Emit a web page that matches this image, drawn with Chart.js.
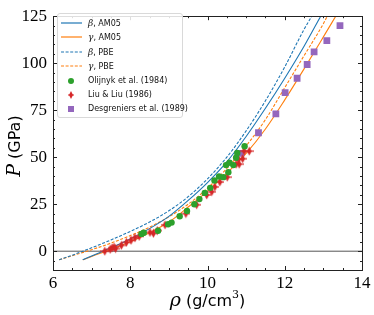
<!DOCTYPE html>
<html lang="en">
<head>
<meta charset="UTF-8">
<title>Sn equation of state</title>
<script src="https://cdn.jsdelivr.net/npm/chart.js"></script>
<style>
  body { margin: 0; background: #fff; }
  #wrap { position: relative; width: 374px; height: 315px; }
  #legend {
    position: absolute; left: 57px; top: 13px; width: 126px; height: 105px;
    border: 1px solid #d9d9d9; border-radius: 3px; background: rgba(255,255,255,0.85);
    font: 8px "DejaVu Sans", sans-serif; color: #111; box-sizing: border-box;
  }
  .row { position: absolute; left: 0; height: 12px; width: 100%; }
  .row svg { position: absolute; left: 2px; top: 0; }
  .row span { position: absolute; left: 30px; top: 1px; white-space: nowrap; }
  .row i { font-family: "DejaVu Serif", serif; font-size: 9px; }
</style>
</head>
<body>
<div id="wrap">
  <canvas id="myChart"></canvas>
  <div id="legend"></div>
</div>

<script>
// tick labels
const xTicks = [6, 8, 10, 12, 14];
const yTicks = [0, 25, 50, 75, 100, 125];

// calculated curves (rho in g/cm3, P in GPa)
const betaAM05Rho = [6.77, 7.0, 7.5, 8.0, 8.5, 9.0, 9.5, 10.0, 10.5, 11.0, 11.5, 12.0, 12.5, 12.93];
const betaAM05P   = [-4.6, -2.5, 1.8, 6.5, 12.0, 18.5, 27.0, 36.5, 47.5, 61, 76, 92, 109, 125];

const gammaAM05Rho = [6.77, 7.0, 7.5, 8.0, 8.5, 9.0, 9.5, 10.0, 10.5, 11.0, 11.5, 12.0, 12.5, 13.0, 13.32];
const gammaAM05P   = [-4.6, -2.8, 0.9, 5.0, 9.8, 15.5, 23.5, 32, 41.5, 52, 65, 80.5, 97, 114, 125];

const betaPBERho = [6.16, 6.5, 7.0, 7.5, 8.0, 8.5, 9.0, 9.5, 10.0, 10.5, 11.0, 11.5, 12.0, 12.5, 12.70];
const betaPBEP   = [-4.6, -2.1, 1.8, 6.0, 10.5, 15.5, 21.5, 29.0, 38.5, 50, 64, 80, 98, 118, 125];

const gammaPBERho = [6.16, 6.5, 7.0, 7.5, 8.0, 8.5, 9.0, 9.5, 10.0, 10.5, 11.0, 11.5, 12.0, 12.5, 13.0, 13.10];
const gammaPBEP   = [-4.6, -2.4, 0.8, 4.3, 8.3, 12.8, 18.3, 25, 33.5, 44, 56, 70, 87, 104, 121, 125];

// experiments
const olijnykRho = [8.29, 8.35, 8.72, 8.98, 9.07, 9.28, 9.47, 9.66, 9.79, 9.93, 10.07, 10.18, 10.30, 10.41, 10.48, 10.54, 10.57, 10.67, 10.74, 10.77, 10.96];
const olijnykP   = [9.2, 9.8, 10.9, 14.3, 15.2, 18.6, 21.4, 25.0, 27.7, 31.0, 33.7, 37.6, 39.7, 39.4, 45.8, 42.0, 47.1, 45.8, 49.7, 52.3, 55.8];

const liuRho = [7.34, 7.48, 7.53, 7.58, 7.62, 7.77, 7.90, 8.02, 8.12, 8.23, 8.51, 8.60, 8.70, 8.90, 9.44, 9.72, 9.98, 10.11, 10.19, 10.32, 10.51, 10.74, 10.82, 10.80, 10.91, 10.95, 11.08];
const liuP   = [0.0, 1.0, 1.8, 2.2, 1.4, 3.1, 4.7, 5.8, 7.2, 7.9, 10.0, 9.5, 11.0, 14.0, 20.0, 24.7, 29.9, 31.6, 34.2, 36.8, 39.4, 46.3, 46.3, 48.9, 49.2, 53.2, 53.2];

const desgRho = [10.86, 11.32, 11.77, 12.01, 12.32, 12.58, 12.76, 13.09, 13.43];
const desgP   = [52, 63, 73, 84.3, 92, 99.3, 106, 112, 120];

const xMinorStep = 0.5;
const yMinorStep = 5;

const blue = '#1f77b4', orange = '#ff7f0e', green = '#2ca02c', red = '#d62728', purple = '#9467bd';

function pts(xs, ys) { return xs.map((v, i) => ({ x: v, y: ys[i] })); }

// thin diamond with horizontal error bar
function diamondMarker() {
  const c = document.createElement('canvas');
  c.width = 9; c.height = 10;
  const g = c.getContext('2d');
  g.fillStyle = red; g.strokeStyle = red;
  g.beginPath();
  g.moveTo(4.5, 0.5); g.lineTo(7, 5); g.lineTo(4.5, 9.5); g.lineTo(2, 5); g.closePath();
  g.fill();
  g.lineWidth = 1.2;
  g.beginPath(); g.moveTo(0, 5); g.lineTo(9, 5); g.stroke();
  return c;
}
const diamond = diamondMarker();

function curve(label, xs, ys, color, dash) {
  return {
    label: label, data: pts(xs, ys), showLine: true, pointRadius: 0,
    borderColor: color, borderWidth: 1.1, borderDash: dash, fill: false,
    cubicInterpolationMode: 'monotone', order: 5
  };
}

const datasets = [
  curve('β, AM05', betaAM05Rho, betaAM05P, blue, []),
  curve('γ, AM05', gammaAM05Rho, gammaAM05P, orange, []),
  curve('β, PBE', betaPBERho, betaPBEP, blue, [3, 1.6]),
  curve('γ, PBE', gammaPBERho, gammaPBEP, orange, [3, 1.6]),
  { label: 'Olijnyk et al. (1984)', data: pts(olijnykRho, olijnykP), pointStyle: 'circle',
    pointRadius: 3.2, backgroundColor: green, borderWidth: 0, order: 1 },
  { label: 'Liu & Liu (1986)', data: pts(liuRho, liuP), pointStyle: diamond,
    pointRadius: 4, backgroundColor: red, borderWidth: 0, order: 1 },
  { label: 'Desgreniers et al. (1989)', data: pts(desgRho, desgP), pointStyle: 'rect',
    pointRadius: 4.8, backgroundColor: purple, borderWidth: 0, order: 1 },
  { label: 'zero', data: pts([6, 14], [0, 0]), showLine: true, pointRadius: 0,
    borderColor: '#555', borderWidth: 1, order: 9 }
];

// frame with inward ticks on all four sides, plus axis titles
const frameTicks = {
  id: 'frameTicks',
  afterDraw(chart) {
    const { ctx, chartArea: a, scales: { x, y } } = chart;
    ctx.save();
    ctx.strokeStyle = '#222';
    ctx.lineWidth = 1;
    ctx.strokeRect(Math.round(a.left) + 0.5, Math.round(a.top) + 0.5,
      Math.round(a.right - a.left), Math.round(a.bottom - a.top));
    ctx.beginPath();
    for (let v = x.min; v <= x.max + 1e-9; v += xMinorStep) {
      const px = Math.round(x.getPixelForValue(v)) + 0.5;
      const len = xTicks.includes(v) ? 4 : 2;
      ctx.moveTo(px, a.bottom); ctx.lineTo(px, a.bottom - len);
      ctx.moveTo(px, a.top); ctx.lineTo(px, a.top + len);
    }
    for (let v = -5; v <= y.max + 1e-9; v += yMinorStep) {
      const py = Math.round(y.getPixelForValue(v)) + 0.5;
      const len = yTicks.includes(v) ? 4 : 2;
      ctx.moveTo(a.left, py); ctx.lineTo(a.left + len, py);
      ctx.moveTo(a.right, py); ctx.lineTo(a.right - len, py);
    }
    ctx.stroke();

    // axis titles with math italic symbols
    ctx.fillStyle = '#000';
    ctx.textBaseline = 'alphabetic';
    const mathFont = 'italic 19px "DejaVu Serif"';
    const textFont = '16px "DejaVu Sans"';
    function drawMixed(parts, cx, cy) {
      let w = 0;
      parts.forEach(p => { ctx.font = p[1]; w += ctx.measureText(p[0]).width; });
      let cur = cx - w / 2;
      parts.forEach(p => {
        ctx.font = p[1];
        ctx.fillText(p[0], cur, cy + (p[2] || 0));
        cur += ctx.measureText(p[0]).width;
      });
    }
    drawMixed([['ρ', mathFont], [' (g/cm', textFont], ['3', '11px "DejaVu Serif"', -8], [')', textFont]],
      (a.left + a.right) / 2, 306);
    ctx.save();
    ctx.translate(20, (a.top + a.bottom) / 2 + 3);
    ctx.rotate(-Math.PI / 2);
    drawMixed([['P', mathFont], [' (GPa)', textFont]], 0, 0);
    ctx.restore();
    ctx.restore();
  }
};

const ctx = document.querySelector('#myChart');
const tickFont = { family: 'Liberation Serif', size: 17 };

new Chart(ctx, {
  type: 'scatter',
  data: { datasets: datasets },
  options: {
    responsive: true,
    maintainAspectRatio: false,
    animation: false,
    layout: { padding: { top: 9, right: 12, left: 0, bottom: 0 } },
    plugins: { legend: { display: false }, tooltip: { enabled: false } },
    scales: {
      x: {
        type: 'linear', min: 6, max: 14,
        grid: { display: false, drawTicks: false },
        border: { display: false },
        ticks: { font: tickFont, color: '#000', padding: 3 },
        afterBuildTicks: s => { s.ticks = xTicks.map(v => ({ value: v })); },
        afterFit: s => { s.height = 45; }
      },
      y: {
        type: 'linear', min: -10, max: 125,
        grid: { display: false, drawTicks: false },
        border: { display: false },
        ticks: { font: tickFont, color: '#000', padding: 6 },
        afterBuildTicks: s => { s.ticks = yTicks.map(v => ({ value: v })); },
        afterFit: s => { s.width = 53; }
      }
    }
  },
  plugins: [frameTicks]
});

// legend inside the axes, upper left
const legendItems = [
  { text: '<i>β</i>, AM05', kind: 'line', color: blue, dash: '' },
  { text: '<i>γ</i>, AM05', kind: 'line', color: orange, dash: '' },
  { text: '<i>β</i>, PBE', kind: 'line', color: blue, dash: '3,1.6' },
  { text: '<i>γ</i>, PBE', kind: 'line', color: orange, dash: '3,1.6' },
  { text: 'Olijnyk et al. (1984)', kind: 'circle', color: green },
  { text: 'Liu &amp; Liu (1986)', kind: 'diamond', color: red },
  { text: 'Desgreniers et al. (1989)', kind: 'square', color: purple }
];
const legend = document.getElementById('legend');
legendItems.forEach((it, i) => {
  let mark;
  if (it.kind === 'line') {
    mark = `<line x1="1" y1="6" x2="22" y2="6" stroke="${it.color}" stroke-width="1.2" stroke-dasharray="${it.dash}"/>`;
  } else if (it.kind === 'circle') {
    mark = `<circle cx="11" cy="6" r="3" fill="${it.color}"/>`;
  } else if (it.kind === 'diamond') {
    mark = `<path d="M11 2 L13 6 L11 10 L9 6 Z" fill="${it.color}"/><line x1="8" y1="6" x2="14" y2="6" stroke="${it.color}"/>`;
  } else {
    mark = `<rect x="8" y="3" width="6" height="6" fill="${it.color}"/>`;
  }
  const row = document.createElement('div');
  row.className = 'row';
  row.style.top = (3 + i * 14.4) + 'px';
  row.innerHTML = `<svg width="24" height="12">${mark}</svg><span>${it.text}</span>`;
  legend.appendChild(row);
});
</script>
</body>
</html>
